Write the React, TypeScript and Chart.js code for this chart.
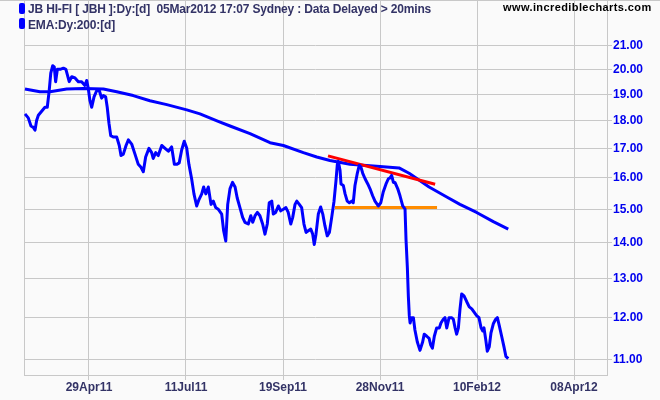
import React, { useEffect, useRef } from "react";
import { Chart, registerables } from "chart.js";

Chart.register(...registerables);

// x axis unit: trading days counted from 29 Apr 2011
const tickDays = [0, 50, 100, 150, 200, 250];
const tickLabels = ["29Apr11", "11Jul11", "19Sep11", "28Nov11", "10Feb12", "08Apr12"];
const priceTicks = [11, 12, 13, 14, 15, 16, 17, 18, 19, 20, 21];

const priceDays = [
  -33.0, -31.3, -29.9, -28.7, -27.8, -27.0, -26.1, -24.4, -22.7, -21.5, -20.5, -19.7, -18.7, -17.9, -17.2, -16.3,
  -14.9, -13.2, -11.9, -10.2, -8.9, -7.2, -5.5, -3.8, -2.1, -1.2, -0.4, 0.5, 1.4, 2.6, 4.0, 5.3, 6.5, 7.4, 8.6,
  9.4, 10.3, 11.2, 12.5, 14.3, 15.6, 16.5, 17.7, 19.1, 20.3, 22.0, 23.7, 25.4, 26.8, 28.0, 29.2, 30.9, 32.3, 33.1,
  34.4, 35.7, 37.5, 39.2, 40.9, 42.6, 44.0, 45.2, 46.5, 47.8, 49.1, 50.4, 51.5, 52.9, 54.1, 55.5, 56.7, 58.1, 59.1,
  60.2, 61.5, 62.9, 64.1, 65.3, 66.6, 68.4, 69.4, 70.5, 71.5, 72.7, 74.0, 75.3, 76.4, 77.8, 79.2, 80.4, 82.1, 83.4,
  84.4, 85.6, 86.8, 88.1, 89.5, 90.7, 91.9, 92.9, 94.2, 95.0, 96.2, 97.6, 98.8, 100.2, 101.5, 102.7, 104.0, 105.0,
  106.2, 107.1, 108.4, 109.6, 110.8, 111.9, 113.0, 114.3, 115.3, 116.1, 117.0, 118.2, 119.4, 120.5, 121.6, 122.8,
  123.9, 125.1, 126.3, 127.3, 128.0, 128.5, 129.4, 129.9, 131.1, 132.0, 133.1, 134.2, 135.4, 136.2, 137.1, 138.3,
  139.3, 140.2, 141.1, 142.3, 143.7, 144.8, 146.2, 147.4, 149.1, 150.4, 151.7, 153.1, 154.3, 155.2, 156.0, 156.9,
  157.7, 159.1, 160.3, 161.7, 162.9, 163.4, 164.1, 164.6, 165.1, 165.5, 166.3, 167.2, 168.0, 169.2, 170.6, 172.0,
  172.8, 174.1, 175.3, 176.1, 177.0, 178.0, 179.2, 180.6, 181.4, 182.6, 183.5, 184.4, 185.6, 187.0, 187.8, 188.7,
  189.5, 190.4, 191.2, 192.1, 193.3, 194.7, 196.0, 197.3, 198.6, 199.8, 201.0, 202.1, 202.9, 203.6, 204.5, 205.3,
  206.3, 207.2, 208.4, 209.6, 210.5, 211.5, 212.7, 213.9, 214.9, 216.1,
];
const priceValues = [
  18.25, 18.1, 17.8, 17.75, 17.65, 18.0, 18.2, 18.35, 18.5, 18.5, 19.15, 19.85, 20.15, 20.1, 19.5, 20.0,
  20.0, 20.05, 20.0, 19.5, 19.7, 19.65, 19.5, 19.5, 19.35, 19.55, 19.25, 18.75, 18.5, 18.9, 19.15, 19.15, 18.85, 18.95, 18.9,
  18.5, 17.9, 17.45, 17.4, 17.4, 17.1, 16.75, 16.8, 17.1, 17.3, 17.15, 16.8, 16.45, 16.35, 16.2, 16.7, 17.0, 16.85, 16.65,
  16.85, 16.75, 17.1, 17.0, 16.9, 17.05, 16.45, 16.45, 16.5, 16.95, 17.25, 17.0, 16.45, 15.97, 15.48, 15.1, 15.3, 15.48, 15.7,
  15.48, 15.7, 15.15, 15.25, 15.05, 15.0, 14.85, 14.35, 14.05, 15.15, 15.65, 15.85, 15.7, 15.35, 15.05, 14.75, 14.6, 14.55, 14.8,
  14.6, 14.8, 14.9, 14.8, 14.55, 14.25, 14.55, 15.2, 15.25, 14.85, 14.9, 15.1, 14.95, 15.0, 15.05, 14.9, 14.55, 14.75,
  15.15, 15.25, 15.15, 15.05, 14.55, 14.3, 14.35, 14.4, 14.25, 13.95, 14.25, 14.85, 15.07, 14.85, 14.5, 14.2,
  14.3, 14.75, 15.25, 15.9, 16.45, 16.55, 16.25, 15.8, 15.75, 15.48, 15.25, 15.2, 15.25, 15.2, 15.75, 16.15,
  16.42, 16.35, 16.15, 15.97, 15.8, 15.65, 15.42, 15.25, 15.1, 15.2, 15.55, 15.8, 15.97, 16.0, 16.08, 15.85,
  15.85, 15.65, 15.42, 15.1, 15.0, 14.1, 13.3, 12.55, 12.05, 11.87, 12.0, 12.0, 11.7, 11.42, 11.22, 11.42,
  11.6, 11.55, 11.5, 11.35, 11.27, 11.55, 11.75, 11.75, 11.87, 11.96, 12.0, 11.75, 12.0, 12.0, 11.96, 11.75,
  11.6, 11.75, 12.2, 12.6, 12.55, 12.4, 12.27, 12.22, 12.13, 12.05, 12.0, 11.75, 11.68, 11.75, 11.47, 11.2,
  11.3, 11.63, 11.85, 11.96, 12.0, 11.8, 11.55, 11.3, 11.08, 11.03,
];

const emaDays = [
  -33.0, -25.3, -20.1, -11.5, -2.9, 7.4, 14.3, 22.8, 31.4, 40.1, 50.4, 57.2, 66.6, 72.7, 83.0, 93.3, 100.2,
  110.5, 117.4, 124.2, 134.5, 150.0, 159.8, 165.0, 170.1, 175.3, 184.4, 191.2, 199.8, 208.4, 216.1,
];
const emaValues = [
  19.21, 19.1, 19.1, 19.21, 19.23, 19.21, 19.1, 18.95, 18.75, 18.6, 18.4, 18.25, 17.97, 17.8, 17.52, 17.2, 17.1,
  16.85, 16.7, 16.58, 16.45, 16.38, 16.33, 16.15, 15.93, 15.7, 15.38, 15.15, 14.9, 14.62, 14.4,
];

const resistDays = [123.2, 178.4];
const resistValues = [16.74, 15.79];
const supportDays = [126.8, 179.4];
const supportValues = [15.05, 15.05];

const toPoints = (xs: number[], ys: number[]) => xs.map((x, i) => ({ x, y: ys[i] }));

const framePlugin = {
  id: "frame",
  beforeDatasetsDraw(chart: any) {
    const { ctx, chartArea } = chart;
    ctx.save();
    ctx.strokeStyle = "#c8c8c8";
    ctx.lineWidth = 1;
    ctx.beginPath();
    ctx.moveTo(0, 0.5);
    ctx.lineTo(chart.width, 0.5);
    ctx.moveTo(chartArea.left + 0.5, 0);
    ctx.lineTo(chartArea.left + 0.5, chartArea.bottom);
    ctx.stroke();
    ctx.restore();
  },
};

export default function App() {
  const ref = useRef<HTMLCanvasElement | null>(null);

  useEffect(() => {
    if (!ref.current) return;
    const lineOpts = { pointRadius: 0, borderWidth: 3, tension: 0, fill: false, borderJoinStyle: "round" as const };
    const chart = new Chart(ref.current, {
      type: "line",
      data: {
        datasets: [
          { label: "JB HI-FI", data: toPoints(priceDays, priceValues), borderColor: "#0000ff", ...lineOpts },
          { label: "Resistance", data: toPoints(resistDays, resistValues), borderColor: "#ff0000", ...lineOpts },
          { label: "Support", data: toPoints(supportDays, supportValues), borderColor: "#ff8c00", ...lineOpts },
          { label: "EMA 200", data: toPoints(emaDays, emaValues), borderColor: "#0000ff", ...lineOpts },
        ],
      },
      options: {
        animation: false,
        responsive: false,
        maintainAspectRatio: false,
        layout: { padding: { left: 24, top: 1, right: 0, bottom: 0 } },
        plugins: { legend: { display: false }, tooltip: { enabled: false } },
        scales: {
          x: {
            type: "linear",
            min: -33.5,
            max: 267,
            afterBuildTicks: (scale: any) => {
              scale.ticks = tickDays.map((v) => ({ value: v }));
            },
            afterFit: (scale: any) => {
              scale.height = 25;
              scale.paddingLeft = 0;
              scale.paddingRight = 0;
            },
            grid: { color: "#c8c8c8", lineWidth: 1, tickLength: 5, drawTicks: true },
            border: { display: true, color: "#c8c8c8" },
            ticks: {
              autoSkip: false,
              maxRotation: 0,
              padding: 0,
              color: "#333366",
              font: { family: "'Liberation Sans', Arial, sans-serif", size: 12, weight: "bold" },
              callback: (v: any) => {
                const i = tickDays.indexOf(Number(v));
                return i >= 0 ? tickLabels[i] : "";
              },
            },
          },
          y: {
            type: "logarithmic",
            position: "right",
            min: 10.665,
            max: 23.02,
            afterBuildTicks: (scale: any) => {
              scale.ticks = priceTicks.map((v) => ({ value: v }));
            },
            afterFit: (scale: any) => {
              scale.width = 53;
              scale.paddingTop = 0;
              scale.paddingBottom = 0;
            },
            grid: { color: "#c8c8c8", lineWidth: 1, tickLength: 5, drawTicks: true },
            border: { display: true, color: "#c8c8c8" },
            ticks: {
              autoSkip: false,
              padding: 1,
              color: "#0000ee",
              font: { family: "'Liberation Sans', Arial, sans-serif", size: 12, weight: "bold" },
              callback: (v: any) => Number(v).toFixed(2),
            },
          },
        },
      },
      plugins: [framePlugin],
    });
    return () => chart.destroy();
  }, []);

  const textFont = "'Liberation Sans', Arial, sans-serif";
  return (
    <div style={{ position: "fixed", left: 0, top: 0, width: 660, height: 400, background: "#fafafa", overflow: "hidden" }}>
      <canvas ref={ref} width={660} height={400} style={{ position: "absolute", left: 0, top: 0, width: 660, height: 400 }} />
      <div style={{ position: "absolute", left: 19, top: 3, width: 6, height: 11, background: "#0000ff", borderRadius: 2 }} />
      <div style={{ position: "absolute", left: 19, top: 18, width: 6, height: 11, background: "#0000ff", borderRadius: 2 }} />
      <div
        style={{
          position: "absolute", left: 28, top: 3, font: `bold 12px ${textFont}`, lineHeight: "12px",
          color: "#333366", whiteSpace: "pre", letterSpacing: "-0.17px",
        }}
      >
        {"JB HI-FI [ JBH ]:Dy:[d]  05Mar2012 17:07 Sydney : Data Delayed > 20mins"}
      </div>
      <div
        style={{
          position: "absolute", left: 28, top: 18.5, font: `bold 12px ${textFont}`, lineHeight: "12px",
          color: "#333366", whiteSpace: "pre", letterSpacing: "-0.17px",
        }}
      >
        {"EMA:Dy:200:[d]"}
      </div>
      <div
        style={{
          position: "absolute", left: 503, top: 2, font: `bold 11px ${textFont}`, lineHeight: "11px",
          color: "#000000", whiteSpace: "pre", letterSpacing: "0.4px",
        }}
      >
        {"www.incrediblecharts.com"}
      </div>
    </div>
  );
}
